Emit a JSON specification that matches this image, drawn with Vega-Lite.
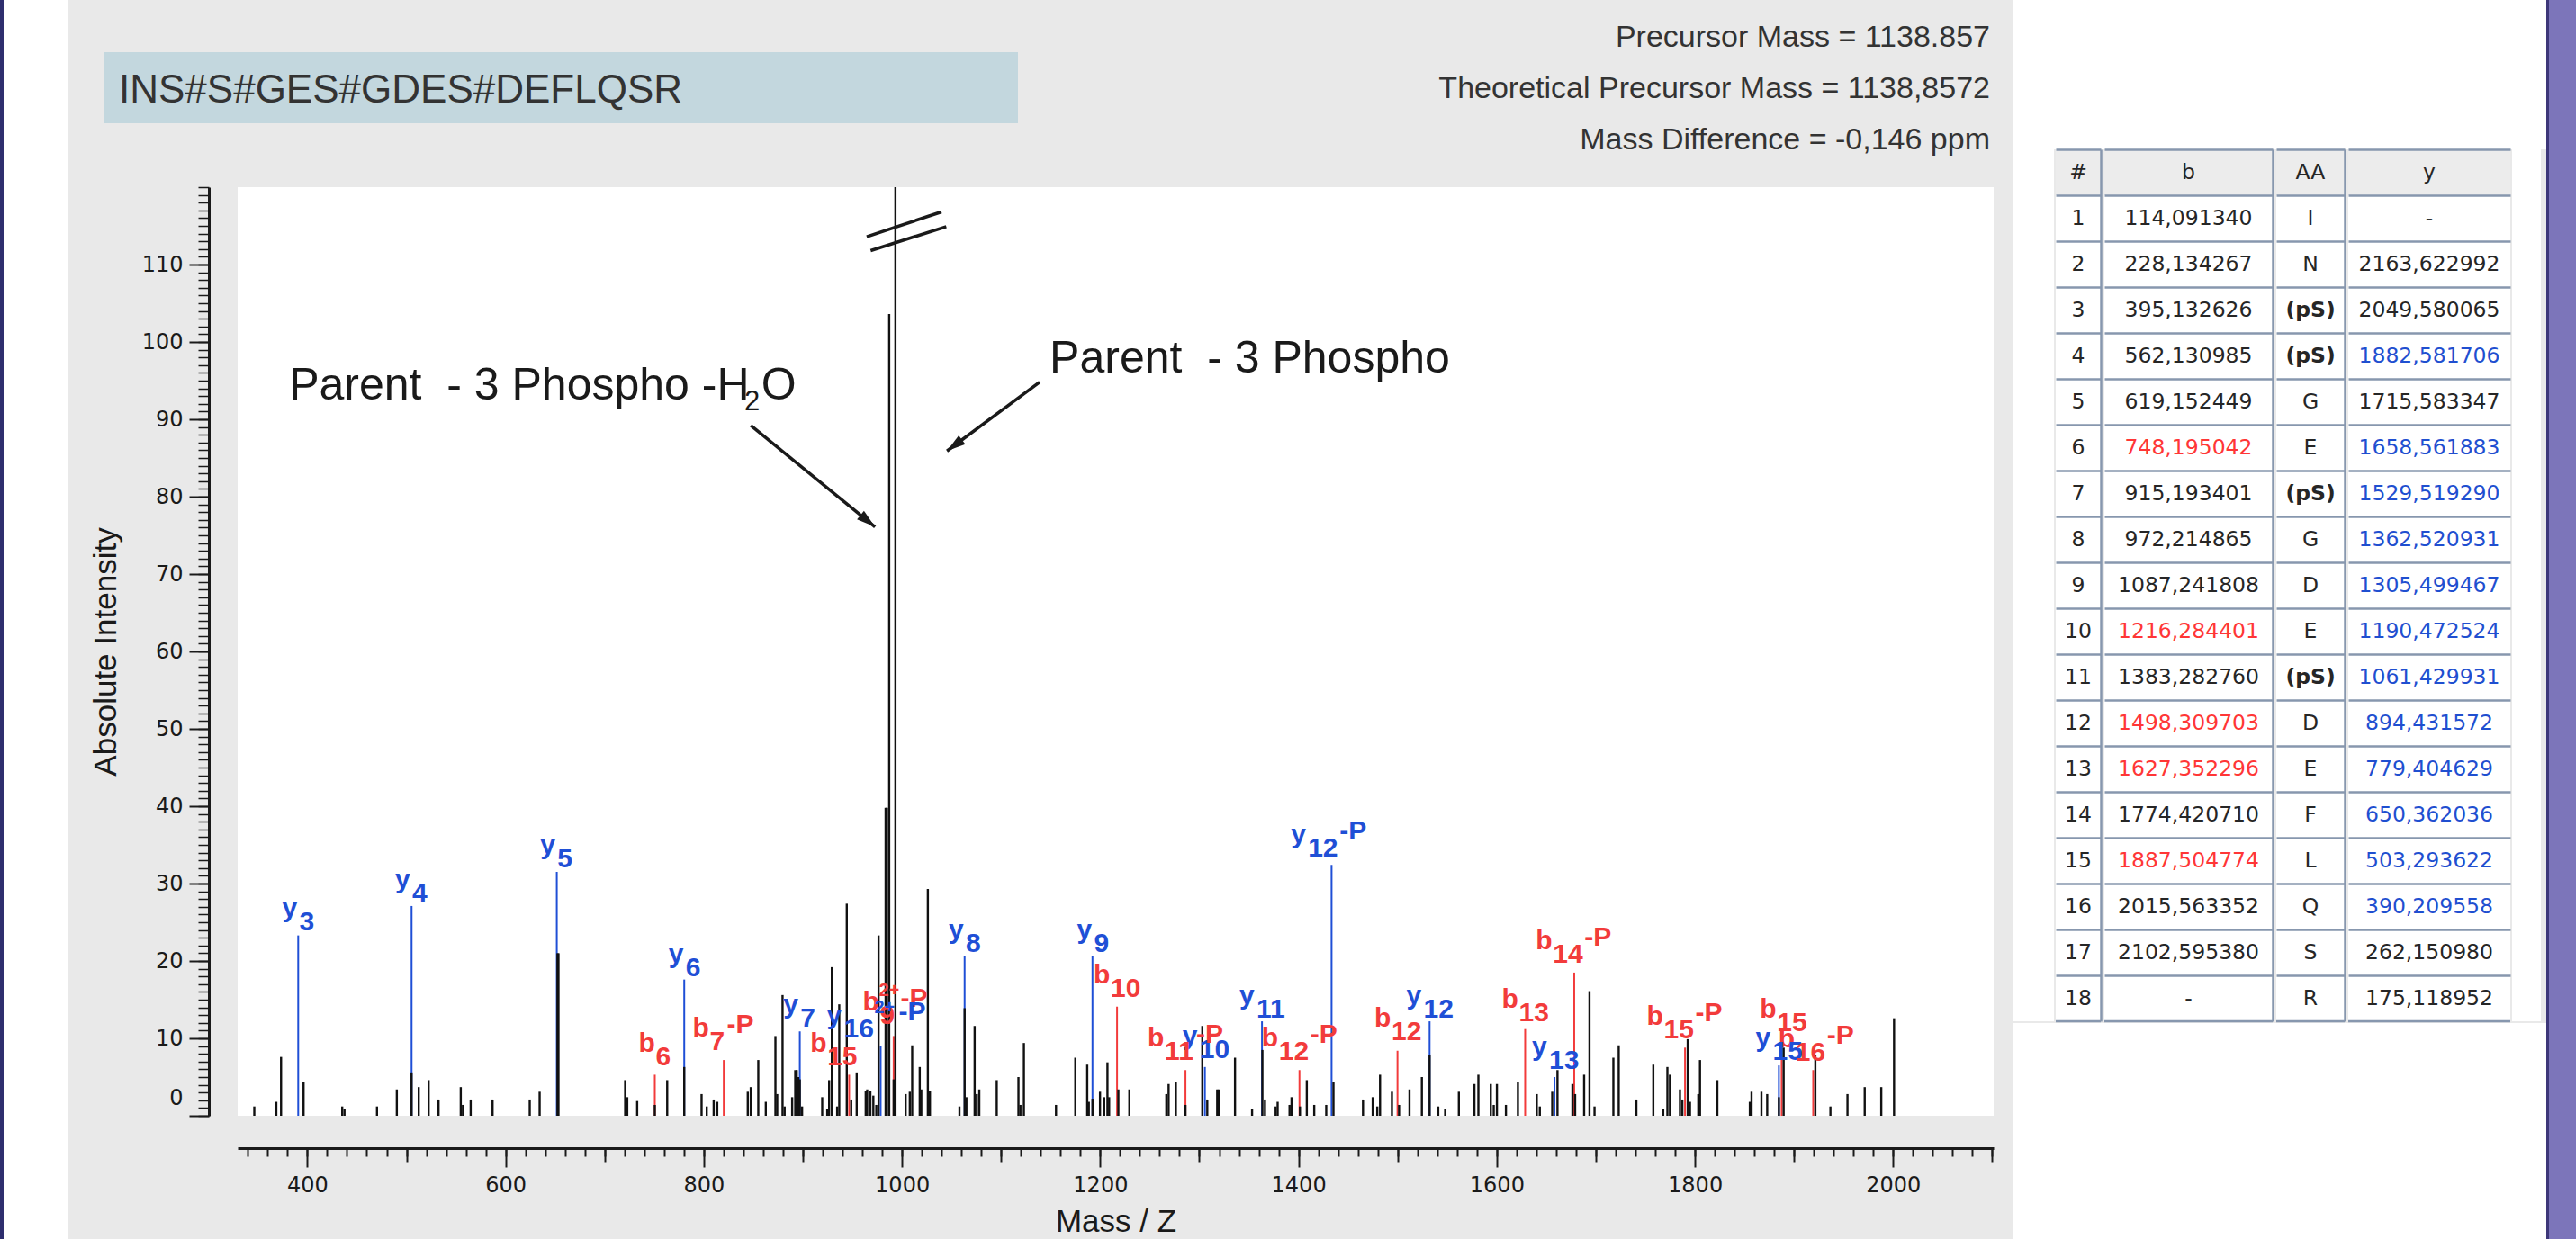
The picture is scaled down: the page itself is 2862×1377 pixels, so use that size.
{
  "$schema": "https://vega.github.io/schema/vega-lite/v6.json",
  "background": "#e9e9e9",
  "padding": 0,
  "spacing": 0,
  "bounds": "full",
  "config": {
    "view": {"stroke": null},
    "axis": {"grid": false},
    "title": {"font": "Liberation Sans", "fontWeight": "normal", "color": "#2a2a2a"},
    "text": {"font": "Liberation Sans"}
  },
  "datasets": {
    "pk": [
      {"mz":346.5,"i":1.2},{"mz":368.7,"i":1.8},{"mz":373.5,"i":7.6},{"mz":396.2,"i":4.4},{"mz":435.2,"i":1.2},{"mz":437.5,"i":0.9},{"mz":470.3,"i":1.2},{"mz":490.3,"i":3.4},{"mz":505.2,"i":5.6},{"mz":512.4,"i":3.7},{"mz":522.4,"i":4.6},{"mz":532.4,"i":2.1},{"mz":554.8,"i":3.7},{"mz":557.0,"i":1.4},{"mz":564.8,"i":2.1},{"mz":586.9,"i":2.1},{"mz":624.4,"i":2.1},{"mz":634.4,"i":3.1},{"mz":652.4,"i":21.0},{"mz":653.4,"i":21.0},{"mz":720.7,"i":4.6},{"mz":722.8,"i":2.4},{"mz":732.8,"i":1.9},
      {"mz":750.6,"i":1.4},{"mz":763.1,"i":4.6},{"mz":780.3,"i":6.3},{"mz":797.8,"i":2.8},{"mz":803.0,"i":1.2},{"mz":810.0,"i":2.1},{"mz":813.6,"i":1.8},{"mz":844.4,"i":3.1},{"mz":847.4,"i":3.7},{"mz":855.0,"i":7.2},{"mz":862.6,"i":1.8},{"mz":872.3,"i":10.3},{"mz":874.1,"i":2.8},{"mz":879.5,"i":15.6},{"mz":881.6,"i":1.2},{"mz":889.2,"i":2.4},{"mz":892.3,"i":5.9},{"mz":893.8,"i":5.9},{"mz":895.3,"i":5.0},{"mz":896.9,"i":4.7},{"mz":899.2,"i":1.2},{"mz":919.5,"i":2.4},{"mz":924.6,"i":0.9},{"mz":926.5,"i":4.6},{"mz":929.2,"i":19.2},{"mz":934.6,"i":1.2},{"mz":936.7,"i":14.4},{"mz":944.3,"i":27.4},{"mz":948.8,"i":2.1},{"mz":954.3,"i":5.6},{"mz":963.4,"i":3.2},{"mz":964.9,"i":3.4},{"mz":968.1,"i":3.2},{"mz":971.1,"i":2.6},{"mz":974.1,"i":1.4},{"mz":976.4,"i":23.3},{"mz":983.5,"i":39.8},{"mz":984.8,"i":39.8},{"mz":987.1,"i":103.6},{"mz":991.6,"i":4.7},{"mz":993.4,"i":130},{"mz":1003.7,"i":2.8},{"mz":1007.9,"i":3.1},{"mz":1010.3,"i":9.1},{"mz":1017.9,"i":6.3},{"mz":1019.5,"i":3.4},{"mz":1026.1,"i":29.3},{"mz":1028.2,"i":3.2},{"mz":1058.0,"i":1.2},{"mz":1063.2,"i":13.9},{"mz":1065.0,"i":2.4},{"mz":1073.3,"i":11.6},{"mz":1075.5,"i":2.8},{"mz":1078.0,"i":3.4},{"mz":1095.6,"i":4.6},
      {"mz":1117.5,"i":5.0},{"mz":1119.5,"i":1.4},{"mz":1123.0,"i":9.4},{"mz":1155.4,"i":1.4},{"mz":1174.9,"i":7.5},{"mz":1186.9,"i":6.6},{"mz":1188.5,"i":1.8},{"mz":1192.2,"i":2.2},{"mz":1199.8,"i":3.1},{"mz":1204.0,"i":2.4},{"mz":1207.3,"i":6.9},{"mz":1209.0,"i":2.4},{"mz":1218.3,"i":3.4},{"mz":1229.4,"i":3.4},{"mz":1266.7,"i":2.8},{"mz":1269.0,"i":4.1},{"mz":1276.3,"i":4.3},{"mz":1286.0,"i":1.4},{"mz":1303.0,"i":11.6},{"mz":1308.0,"i":2.1},{"mz":1318.0,"i":3.4},{"mz":1319.5,"i":3.4},{"mz":1336.0,"i":7.5},{"mz":1353.2,"i":0.9},{"mz":1363.6,"i":8.5},{"mz":1366.2,"i":2.1},{"mz":1377.0,"i":1.2},{"mz":1379.0,"i":1.8},{"mz":1391.0,"i":1.4},{"mz":1393.0,"i":2.4},{"mz":1401.5,"i":1.2},{"mz":1408.4,"i":4.6},{"mz":1415.9,"i":1.4},{"mz":1428.0,"i":1.4},{"mz":1435.3,"i":4.3},{"mz":1465.1,"i":2.1},{"mz":1474.9,"i":2.4},{"mz":1479.5,"i":1.2},{"mz":1482.3,"i":5.3},{"mz":1494.3,"i":3.1},{"mz":1501.5,"i":1.4},{"mz":1512.0,"i":3.4},{"mz":1524.5,"i":5.0},{"mz":1532.3,"i":7.8},{"mz":1541.0,"i":1.2},{"mz":1548.0,"i":0.9},{"mz":1561.8,"i":3.1},{"mz":1577.5,"i":4.1},{"mz":1581.5,"i":5.3},{"mz":1594.0,"i":4.1},
      {"mz":1597.0,"i":1.4},{"mz":1600.2,"i":4.1},{"mz":1609.3,"i":1.4},{"mz":1621.4,"i":4.3},{"mz":1640.4,"i":2.8},{"mz":1643.5,"i":1.2},{"mz":1656.0,"i":3.1},{"mz":1661.3,"i":5.9},{"mz":1676.4,"i":4.1},{"mz":1679.1,"i":2.8},{"mz":1688.2,"i":5.3},{"mz":1693.6,"i":16.1},{"mz":1698.7,"i":1.2},{"mz":1717.7,"i":7.5},{"mz":1723.1,"i":9.1},{"mz":1740.9,"i":2.1},{"mz":1758.0,"i":6.6},{"mz":1768.0,"i":0.9},{"mz":1772.2,"i":6.3},{"mz":1774.8,"i":5.3},{"mz":1784.9,"i":3.4},{"mz":1787.3,"i":2.1},{"mz":1792.7,"i":9.9},{"mz":1795.0,"i":1.8},{"mz":1803.4,"i":2.8},{"mz":1805.1,"i":7.2},{"mz":1822.6,"i":4.6},{"mz":1855.4,"i":1.8},{"mz":1857.1,"i":3.1},{"mz":1867.1,"i":3.1},{"mz":1872.9,"i":2.8},{"mz":1884.7,"i":2.4},{"mz":1889.5,"i":8.8},{"mz":1921.5,"i":7.8},{"mz":1936.7,"i":1.2},{"mz":1953.9,"i":2.8},{"mz":1971.3,"i":3.7},{"mz":1988.0,"i":3.7},{"mz":2000.9,"i":12.6}
    ],
    "ann": [
      {"mz":390.8,"i":23.3,"c":"y"},{"mz":505.2,"i":27.1,"c":"y"},{"mz":651.7,"i":31.5,"c":"y"},{"mz":750.6,"i":5.3,"c":"b"},{"mz":780.3,"i":17.6,"c":"y"},{"mz":820.2,"i":7.2,"c":"b"},{"mz":896.9,"i":10.9,"c":"y"},{"mz":946.7,"i":5.3,"c":"b"},{"mz":978.5,"i":9.0,"c":"y"},{"mz":991.6,"i":10.3,"c":"b"},{"mz":1063.2,"i":20.7,"c":"y"},{"mz":1192.2,"i":20.7,"c":"y"},{"mz":1217.0,"i":14.1,"c":"b"},{"mz":1286.0,"i":5.9,"c":"b"},{"mz":1305.6,"i":6.3,"c":"y"},{"mz":1363.2,"i":12.2,"c":"y"},{"mz":1401.0,"i":5.9,"c":"b"},{"mz":1433.4,"i":32.4,"c":"y"},{"mz":1499.9,"i":8.4,"c":"b"},{"mz":1532.3,"i":12.2,"c":"y"},{"mz":1628.7,"i":11.2,"c":"b"},{"mz":1658.3,"i":5.0,"c":"y"},{"mz":1678.2,"i":18.5,"c":"b"},{"mz":1790.0,"i":8.8,"c":"b"},{"mz":1884.7,"i":6.5,"c":"y"},{"mz":1887.5,"i":8.8,"c":"b"},{"mz":1919.3,"i":5.9,"c":"b"}
    ],
    "lbl": [
      {"lx":374.7,"ly":25.7,"ion":"y","num":"3","sup":"","suf":""},
      {"lx":488.7,"ly":29.4,"ion":"y","num":"4","sup":"","suf":""},
      {"lx":635.0,"ly":33.8,"ion":"y","num":"5","sup":"","suf":""},
      {"lx":734.2,"ly":8.3,"ion":"b","num":"6","sup":"","suf":""},
      {"lx":764.5,"ly":19.8,"ion":"y","num":"6","sup":"","suf":""},
      {"lx":788.7,"ly":10.2,"ion":"b","num":"7","sup":"","suf":"-P"},
      {"lx":880.2,"ly":13.3,"ion":"y","num":"7","sup":"","suf":""},
      {"lx":907.4,"ly":8.3,"ion":"b","num":"15","sup":"","suf":""},
      {"lx":924.0,"ly":11.9,"ion":"y","num":"16","sup":"2+","suf":"-P"},
      {"lx":960.3,"ly":13.6,"ion":"b","num":"9","sup":"2+","suf":"-P"},
      {"lx":1047.2,"ly":22.9,"ion":"y","num":"8","sup":"","suf":""},
      {"lx":1176.5,"ly":22.9,"ion":"y","num":"9","sup":"","suf":""},
      {"lx":1193.4,"ly":17.1,"ion":"b","num":"10","sup":"","suf":""},
      {"lx":1247.9,"ly":8.9,"ion":"b","num":"11","sup":"","suf":"-P"},
      {"lx":1283.0,"ly":9.2,"ion":"y","num":"10","sup":"","suf":""},
      {"lx":1340.4,"ly":14.4,"ion":"y","num":"11","sup":"","suf":""},
      {"lx":1363.0,"ly":8.9,"ion":"b","num":"12","sup":"","suf":"-P"},
      {"lx":1392.3,"ly":35.2,"ion":"y","num":"12","sup":"","suf":"-P"},
      {"lx":1476.6,"ly":11.5,"ion":"b","num":"12","sup":"","suf":""},
      {"lx":1508.9,"ly":14.4,"ion":"y","num":"12","sup":"","suf":""},
      {"lx":1605.2,"ly":14.0,"ion":"b","num":"13","sup":"","suf":""},
      {"lx":1635.5,"ly":7.8,"ion":"y","num":"13","sup":"","suf":""},
      {"lx":1639.4,"ly":21.5,"ion":"b","num":"14","sup":"","suf":"-P"},
      {"lx":1751.3,"ly":11.7,"ion":"b","num":"15","sup":"","suf":"-P"},
      {"lx":1861.2,"ly":9.0,"ion":"y","num":"15","sup":"","suf":""},
      {"lx":1865.5,"ly":12.7,"ion":"b","num":"15","sup":"","suf":""},
      {"lx":1884.1,"ly":8.8,"ion":"b","num":"16","sup":"","suf":"-P"}
    ],
    "notes": [
      {"x":381.6,"y":92.6,"t":"Parent\u00a0 - 3 Phospho -H","k":"m"},
      {"x":841.0,"y":92.6,"t":"2","k":"s"},
      {"x":858.0,"y":92.6,"t":"O","k":"m"},
      {"x":1148.9,"y":96.0,"t":"Parent\u00a0 - 3 Phospho","k":"m"}
    ],
    "lines": [
      {"id":"a1","x1":847.5,"y1":89.2,"x2":972.8,"y2":76.1},
      {"id":"a2","x1":1138.9,"y1":94.8,"x2":1045.4,"y2":85.9},
      {"id":"k1","x1":964.4,"y1":113.6,"x2":1039.8,"y2":116.8},
      {"id":"k2","x1":968.4,"y1":111.8,"x2":1044.7,"y2":114.9}
    ],
    "tbl": [
      {"r":"0","n":"#","b":"b","aa":"AA","y":"y","bc":"black","yc":"black"},
      {"r":"1","n":"1","b":"114,091340","aa":"I","y":"-","bc":"black","yc":"black"},
      {"r":"2","n":"2","b":"228,134267","aa":"N","y":"2163,622992","bc":"black","yc":"black"},
      {"r":"3","n":"3","b":"395,132626","aa":"(pS)","y":"2049,580065","bc":"black","yc":"black"},
      {"r":"4","n":"4","b":"562,130985","aa":"(pS)","y":"1882,581706","bc":"black","yc":"blue"},
      {"r":"5","n":"5","b":"619,152449","aa":"G","y":"1715,583347","bc":"black","yc":"black"},
      {"r":"6","n":"6","b":"748,195042","aa":"E","y":"1658,561883","bc":"red","yc":"blue"},
      {"r":"7","n":"7","b":"915,193401","aa":"(pS)","y":"1529,519290","bc":"black","yc":"blue"},
      {"r":"8","n":"8","b":"972,214865","aa":"G","y":"1362,520931","bc":"black","yc":"blue"},
      {"r":"9","n":"9","b":"1087,241808","aa":"D","y":"1305,499467","bc":"black","yc":"blue"},
      {"r":"10","n":"10","b":"1216,284401","aa":"E","y":"1190,472524","bc":"red","yc":"blue"},
      {"r":"11","n":"11","b":"1383,282760","aa":"(pS)","y":"1061,429931","bc":"black","yc":"blue"},
      {"r":"12","n":"12","b":"1498,309703","aa":"D","y":"894,431572","bc":"red","yc":"blue"},
      {"r":"13","n":"13","b":"1627,352296","aa":"E","y":"779,404629","bc":"red","yc":"blue"},
      {"r":"14","n":"14","b":"1774,420710","aa":"F","y":"650,362036","bc":"black","yc":"blue"},
      {"r":"15","n":"15","b":"1887,504774","aa":"L","y":"503,293622","bc":"red","yc":"blue"},
      {"r":"16","n":"16","b":"2015,563352","aa":"Q","y":"390,209558","bc":"black","yc":"blue"},
      {"r":"17","n":"17","b":"2102,595380","aa":"S","y":"262,150980","bc":"black","yc":"black"},
      {"r":"18","n":"18","b":"-","aa":"R","y":"175,118952","bc":"black","yc":"black"}
    ]
  },
  "hconcat": [
    {"width": 4, "height": 1377, "view": {"fill": "#2e2e6e"}, "data": {"values": []}, "mark": "point", "encoding": {}},
    {"width": 71, "height": 1377, "view": {"fill": "#ffffff"}, "data": {"values": []}, "mark": "point", "encoding": {}},
    {
      "spacing": 0, "bounds": "full",
      "vconcat": [
        {
          "spacing": 0, "bounds": "full",
          "hconcat": [
            {"width": 41, "height": 207, "data": {"values": []}, "mark": "point", "encoding": {}},
            {
              "spacing": 0, "bounds": "full",
              "vconcat": [
                {"width": 1015, "height": 58, "data": {"values": []}, "mark": "point", "encoding": {}},
                {"width": 1015, "height": 79, "view": {"fill": "#c3d7de"}, "data": {"values": []}, "mark": "point", "encoding": {},
                 "title": {"text": "INS#S#GES#GDES#DEFLQSR", "orient": "bottom", "anchor": "start", "frame": "group", "offset": -58.5, "dx": 16, "fontSize": 44, "color": "#333333"}},
                {"width": 1015, "height": 70, "data": {"values": []}, "mark": "point", "encoding": {}}
              ]
            },
            {"width": 1106, "height": 207, "data": {"values": []}, "mark": "point", "encoding": {},
             "title": {"text": ["Precursor Mass = 1138.857", "Theoretical Precursor Mass = 1138,8572", "Mass Difference = -0,146 ppm"], "orient": "bottom", "anchor": "end", "frame": "group", "offset": -182, "dx": -26, "fontSize": 34, "lineHeight": 57, "color": "#333333"}}
          ]
        },
        {
          "spacing": 0, "bounds": "full",
          "hconcat": [
            {"width": 25, "height": 1032, "data": {"values": []}, "mark": "point", "encoding": {}},
            {
              "width": 1951, "height": 1032,
              "view": {"fill": "#ffffff"},
              "resolve": {"axis": {"x": "independent", "y": "independent"}},
              "layer": [
                {"data": {"name": "ann"}, "mark": {"type": "rule", "strokeWidth": 2},
                 "encoding": {
                   "x": {"field": "mz", "type": "quantitative", "scale": {"domain": [329.7, 2101.4], "nice": false, "zero": false}, "axis": null},
                   "y": {"field": "i", "type": "quantitative", "scale": {"domain": [0, 120], "nice": false, "zero": false}, "axis": null},
                   "y2": {"datum": 0},
                   "color": {"field": "c", "type": "nominal", "scale": {"domain": ["y", "b", "black", "red", "blue"], "range": ["#1f4fd6", "#f23b3b", "#262626", "#ff3636", "#1f4fd0"]}, "legend": null}
                 }},
                {"data": {"name": "pk"}, "mark": {"type": "rule", "strokeWidth": 2.4, "color": "#111111", "clip": true},
                 "encoding": {
                   "x": {"field": "mz", "type": "quantitative", "scale": {"domain": [329.7, 2101.4], "nice": false, "zero": false},
                         "axis": {"orient": "bottom", "offset": 36, "values": [400, 600, 800, 1000, 1200, 1400, 1600, 1800, 2000], "format": "d", "tickSize": 21, "tickWidth": 2, "tickColor": "#1a1a1a", "domainColor": "#1a1a1a", "domainWidth": 3, "labelFont": "DejaVu Sans", "labelFontSize": 24, "labelColor": "#1a1a1a", "labelPadding": 8, "labelFlush": false, "labelOverlap": false, "title": "Mass / Z", "titleFont": "Liberation Sans", "titleFontSize": 35, "titleFontWeight": "normal", "titleColor": "#1a1a1a", "titlePadding": 11, "grid": false}},
                   "y": {"field": "i", "type": "quantitative", "scale": {"domain": [0, 120], "nice": false, "zero": false},
                         "axis": {"orient": "left", "offset": 32, "values": [0, 10, 20, 30, 40, 50, 60, 70, 80, 90, 100, 110], "tickSize": 22, "tickWidth": 2, "tickColor": "#1a1a1a", "domainColor": "#1a1a1a", "domainWidth": 3, "labelFont": "DejaVu Sans", "labelFontSize": 24, "labelColor": "#1a1a1a", "labelPadding": 7, "labelFlush": true, "labelFlushOffset": -8, "title": "Absolute Intensity", "titleFont": "Liberation Sans", "titleFontSize": 35, "titleFontWeight": "normal", "titleColor": "#1a1a1a", "titlePadding": 22, "grid": false}},
                   "y2": {"datum": 0}
                 }},
                {"data": {"name": "pk"}, "mark": {"type": "point", "opacity": 0, "clip": true},
                 "encoding": {
                   "x": {"field": "mz", "type": "quantitative", "scale": {"domain": [329.7, 2101.4], "nice": false, "zero": false},
                         "axis": {"orient": "bottom", "offset": 36, "tickCount": 89, "tickSize": 9, "tickWidth": 2, "tickColor": "#1a1a1a", "labels": false, "domain": false, "title": null, "grid": false}},
                   "y": {"field": "i", "type": "quantitative", "scale": {"domain": [0, 120], "nice": false, "zero": false},
                         "axis": {"orient": "left", "offset": 32, "tickCount": 120, "tickSize": 12, "tickWidth": 1.5, "tickColor": "#1a1a1a", "labels": false, "domain": false, "title": null, "grid": false}}
                 }},
                {"data": {"name": "pk"}, "mark": {"type": "point", "opacity": 0, "clip": true},
                 "encoding": {
                   "x": {"field": "mz", "type": "quantitative", "scale": {"domain": [329.7, 2101.4], "nice": false, "zero": false},
                         "axis": {"orient": "bottom", "offset": 36, "values": [500, 700, 900, 1100, 1300, 1500, 1700, 1900, 2100], "tickSize": 15, "tickWidth": 2, "tickColor": "#1a1a1a", "labels": false, "domain": false, "title": null, "grid": false}},
                   "y": {"field": "i", "type": "quantitative", "scale": {"domain": [0, 120], "nice": false, "zero": false}, "axis": null}
                 }},
                {"data": {"name": "lbl"}, "mark": {"type": "text", "fontWeight": "bold", "fontSize": 30, "align": "left", "baseline": "alphabetic"},
                 "encoding": {
                   "x": {"field": "lx", "type": "quantitative", "scale": {"domain": [329.7, 2101.4], "nice": false, "zero": false}, "axis": null},
                   "y": {"field": "ly", "type": "quantitative", "scale": {"domain": [0, 120], "nice": false, "zero": false}, "axis": null},
                   "text": {"field": "ion"},
                   "color": {"field": "ion", "type": "nominal", "scale": {"domain": ["y", "b", "black", "red", "blue"], "range": ["#1f4fd6", "#f23b3b", "#262626", "#ff3636", "#1f4fd0"]}, "legend": null}
                 }},
                {"data": {"name": "lbl"}, "mark": {"type": "text", "fontWeight": "bold", "fontSize": 30, "align": "left", "baseline": "alphabetic", "dx": 19, "dy": 15},
                 "encoding": {
                   "x": {"field": "lx", "type": "quantitative", "scale": {"domain": [329.7, 2101.4], "nice": false, "zero": false}, "axis": null},
                   "y": {"field": "ly", "type": "quantitative", "scale": {"domain": [0, 120], "nice": false, "zero": false}, "axis": null},
                   "text": {"field": "num"},
                   "color": {"field": "ion", "type": "nominal", "scale": {"domain": ["y", "b", "black", "red", "blue"], "range": ["#1f4fd6", "#f23b3b", "#262626", "#ff3636", "#1f4fd0"]}, "legend": null}
                 }},
                {"data": {"name": "lbl"}, "transform": [{"filter": "datum.sup=='' && datum.suf!='' && length(datum.num)==1"}],
                 "mark": {"type": "text", "fontWeight": "bold", "fontSize": 30, "align": "left", "baseline": "alphabetic", "dx": 38, "dy": -4},
                 "encoding": {
                   "x": {"field": "lx", "type": "quantitative", "scale": {"domain": [329.7, 2101.4], "nice": false, "zero": false}, "axis": null},
                   "y": {"field": "ly", "type": "quantitative", "scale": {"domain": [0, 120], "nice": false, "zero": false}, "axis": null},
                   "text": {"field": "suf"},
                   "color": {"field": "ion", "type": "nominal", "scale": {"domain": ["y", "b", "black", "red", "blue"], "range": ["#1f4fd6", "#f23b3b", "#262626", "#ff3636", "#1f4fd0"]}, "legend": null}
                 }},
                {"data": {"name": "lbl"}, "transform": [{"filter": "datum.sup=='' && datum.suf!='' && length(datum.num)==2"}],
                 "mark": {"type": "text", "fontWeight": "bold", "fontSize": 30, "align": "left", "baseline": "alphabetic", "dx": 54, "dy": -4},
                 "encoding": {
                   "x": {"field": "lx", "type": "quantitative", "scale": {"domain": [329.7, 2101.4], "nice": false, "zero": false}, "axis": null},
                   "y": {"field": "ly", "type": "quantitative", "scale": {"domain": [0, 120], "nice": false, "zero": false}, "axis": null},
                   "text": {"field": "suf"},
                   "color": {"field": "ion", "type": "nominal", "scale": {"domain": ["y", "b", "black", "red", "blue"], "range": ["#1f4fd6", "#f23b3b", "#262626", "#ff3636", "#1f4fd0"]}, "legend": null}
                 }},
                {"data": {"name": "lbl"}, "transform": [{"filter": "datum.sup!='' && length(datum.num)==1"}],
                 "mark": {"type": "text", "fontWeight": "bold", "fontSize": 20, "align": "left", "baseline": "alphabetic", "dx": 18, "dy": -16},
                 "encoding": {
                   "x": {"field": "lx", "type": "quantitative", "scale": {"domain": [329.7, 2101.4], "nice": false, "zero": false}, "axis": null},
                   "y": {"field": "ly", "type": "quantitative", "scale": {"domain": [0, 120], "nice": false, "zero": false}, "axis": null},
                   "text": {"field": "sup"},
                   "color": {"field": "ion", "type": "nominal", "scale": {"domain": ["y", "b", "black", "red", "blue"], "range": ["#1f4fd6", "#f23b3b", "#262626", "#ff3636", "#1f4fd0"]}, "legend": null}
                 }},
                {"data": {"name": "lbl"}, "transform": [{"filter": "datum.sup!='' && length(datum.num)==1"}],
                 "mark": {"type": "text", "fontWeight": "bold", "fontSize": 30, "align": "left", "baseline": "alphabetic", "dx": 42, "dy": -4},
                 "encoding": {
                   "x": {"field": "lx", "type": "quantitative", "scale": {"domain": [329.7, 2101.4], "nice": false, "zero": false}, "axis": null},
                   "y": {"field": "ly", "type": "quantitative", "scale": {"domain": [0, 120], "nice": false, "zero": false}, "axis": null},
                   "text": {"field": "suf"},
                   "color": {"field": "ion", "type": "nominal", "scale": {"domain": ["y", "b", "black", "red", "blue"], "range": ["#1f4fd6", "#f23b3b", "#262626", "#ff3636", "#1f4fd0"]}, "legend": null}
                 }},
                {"data": {"name": "lbl"}, "transform": [{"filter": "datum.sup!='' && length(datum.num)==2"}],
                 "mark": {"type": "text", "fontWeight": "bold", "fontSize": 20, "align": "left", "baseline": "alphabetic", "dx": 53, "dy": -12},
                 "encoding": {
                   "x": {"field": "lx", "type": "quantitative", "scale": {"domain": [329.7, 2101.4], "nice": false, "zero": false}, "axis": null},
                   "y": {"field": "ly", "type": "quantitative", "scale": {"domain": [0, 120], "nice": false, "zero": false}, "axis": null},
                   "text": {"field": "sup"},
                   "color": {"field": "ion", "type": "nominal", "scale": {"domain": ["y", "b", "black", "red", "blue"], "range": ["#1f4fd6", "#f23b3b", "#262626", "#ff3636", "#1f4fd0"]}, "legend": null}
                 }},
                {"data": {"name": "lbl"}, "transform": [{"filter": "datum.sup!='' && length(datum.num)==2"}],
                 "mark": {"type": "text", "fontWeight": "bold", "fontSize": 30, "align": "left", "baseline": "alphabetic", "dx": 80, "dy": -4},
                 "encoding": {
                   "x": {"field": "lx", "type": "quantitative", "scale": {"domain": [329.7, 2101.4], "nice": false, "zero": false}, "axis": null},
                   "y": {"field": "ly", "type": "quantitative", "scale": {"domain": [0, 120], "nice": false, "zero": false}, "axis": null},
                   "text": {"field": "suf"},
                   "color": {"field": "ion", "type": "nominal", "scale": {"domain": ["y", "b", "black", "red", "blue"], "range": ["#1f4fd6", "#f23b3b", "#262626", "#ff3636", "#1f4fd0"]}, "legend": null}
                 }},
                {"data": {"name": "notes"}, "transform": [{"filter": "datum.k=='m'"}],
                 "mark": {"type": "text", "fontSize": 50, "align": "left", "baseline": "alphabetic", "color": "#1a1a1a"},
                 "encoding": {
                   "x": {"field": "x", "type": "quantitative", "scale": {"domain": [329.7, 2101.4], "nice": false, "zero": false}, "axis": null},
                   "y": {"field": "y", "type": "quantitative", "scale": {"domain": [0, 120], "nice": false, "zero": false}, "axis": null},
                   "text": {"field": "t"}
                 }},
                {"data": {"name": "notes"}, "transform": [{"filter": "datum.k=='s'"}],
                 "mark": {"type": "text", "fontSize": 31, "align": "left", "baseline": "alphabetic", "color": "#1a1a1a", "dy": 12},
                 "encoding": {
                   "x": {"field": "x", "type": "quantitative", "scale": {"domain": [329.7, 2101.4], "nice": false, "zero": false}, "axis": null},
                   "y": {"field": "y", "type": "quantitative", "scale": {"domain": [0, 120], "nice": false, "zero": false}, "axis": null},
                   "text": {"field": "t"}
                 }},
                {"data": {"name": "lines"}, "mark": {"type": "rule", "color": "#1a1a1a", "strokeWidth": 3.5},
                 "encoding": {
                   "x": {"field": "x1", "type": "quantitative", "scale": {"domain": [329.7, 2101.4], "nice": false, "zero": false}, "axis": null},
                   "y": {"field": "y1", "type": "quantitative", "scale": {"domain": [0, 120], "nice": false, "zero": false}, "axis": null},
                   "x2": {"field": "x2"},
                   "y2": {"field": "y2"}
                 }},
                {"data": {"name": "lines"}, "transform": [{"filter": "datum.id=='a1'"}],
                 "mark": {"type": "point", "shape": "M0,0L0.5,1.7L-0.5,1.7Z", "size": 600, "filled": true, "opacity": 1, "color": "#1a1a1a", "angle": 129.2},
                 "encoding": {
                   "x": {"field": "x2", "type": "quantitative", "scale": {"domain": [329.7, 2101.4], "nice": false, "zero": false}, "axis": null},
                   "y": {"field": "y2", "type": "quantitative", "scale": {"domain": [0, 120], "nice": false, "zero": false}, "axis": null}
                 }},
                {"data": {"name": "lines"}, "transform": [{"filter": "datum.id=='a2'"}],
                 "mark": {"type": "point", "shape": "M0,0L0.5,1.7L-0.5,1.7Z", "size": 600, "filled": true, "opacity": 1, "color": "#1a1a1a", "angle": 233.4},
                 "encoding": {
                   "x": {"field": "x2", "type": "quantitative", "scale": {"domain": [329.7, 2101.4], "nice": false, "zero": false}, "axis": null},
                   "y": {"field": "y2", "type": "quantitative", "scale": {"domain": [0, 120], "nice": false, "zero": false}, "axis": null}
                 }}
              ]
            }
          ]
        }
      ]
    },
    {
      "spacing": 0, "bounds": "full",
      "vconcat": [
        {"width": 592, "height": 166, "view": {"fill": "#ffffff"}, "data": {"values": []}, "mark": "point", "encoding": {}},
        {
          "spacing": 0, "bounds": "full",
          "hconcat": [
            {"width": 45, "height": 969, "view": {"fill": "#ffffff"}, "data": {"values": []}, "mark": "point", "encoding": {}},
            {
              "width": 50, "height": 969, "view": {"fill": "#ffffff"}, "data": {"name": "tbl"},
              "layer": [
                {"transform": [{"filter": "datum.r=='0'"}], "mark": {"type": "rect", "color": "#ececec"},
                 "encoding": {"y": {"field": "r", "type": "ordinal", "scale": {"domain": ["0","1","2","3","4","5","6","7","8","9","10","11","12","13","14","15","16","17","18"], "paddingInner": 0, "paddingOuter": 0},
                   "axis": {"orient": "right", "domain": true, "domainColor": "#8797ae", "domainWidth": 2.5, "grid": true, "gridColor": "#8797ae", "gridWidth": 2.5, "gridOpacity": 1, "bandPosition": 0, "ticks": false, "labels": false, "title": null, "zindex": 1}}}},
                {"mark": {"type": "text", "font": "DejaVu Sans", "fontSize": 23.5, "color": "#262626"},
                 "encoding": {"y": {"field": "r", "type": "ordinal"}, "text": {"field": "n"}}},
                {"transform": [{"filter": "datum.r=='18'"}], "mark": {"type": "rule", "color": "#8797ae", "strokeWidth": 2.5},
                 "encoding": {"y": {"field": "r", "type": "ordinal", "bandPosition": 1}}}
              ]
            },
            {
              "width": 187, "height": 969, "view": {"fill": "#ffffff"}, "data": {"name": "tbl"},
              "layer": [
                {"transform": [{"filter": "datum.r=='0'"}], "mark": {"type": "rect", "color": "#ececec"},
                 "encoding": {"y": {"field": "r", "type": "ordinal", "scale": {"domain": ["0","1","2","3","4","5","6","7","8","9","10","11","12","13","14","15","16","17","18"], "paddingInner": 0, "paddingOuter": 0},
                   "axis": {"orient": "right", "domain": true, "domainColor": "#8797ae", "domainWidth": 2.5, "grid": true, "gridColor": "#8797ae", "gridWidth": 2.5, "gridOpacity": 1, "bandPosition": 0, "ticks": false, "labels": false, "title": null, "zindex": 1}}}},
                {"mark": {"type": "text", "font": "DejaVu Sans", "fontSize": 23.5},
                 "encoding": {"y": {"field": "r", "type": "ordinal"}, "text": {"field": "b"},
                   "color": {"field": "bc", "type": "nominal", "scale": {"domain": ["y", "b", "black", "red", "blue"], "range": ["#1f4fd6", "#f23b3b", "#262626", "#ff3636", "#1f4fd0"]}, "legend": null}}},
                {"transform": [{"filter": "datum.r=='18'"}], "mark": {"type": "rule", "color": "#8797ae", "strokeWidth": 2.5},
                 "encoding": {"y": {"field": "r", "type": "ordinal", "bandPosition": 1}}}
              ]
            },
            {
              "width": 76, "height": 969, "view": {"fill": "#ffffff"}, "data": {"name": "tbl"},
              "layer": [
                {"transform": [{"filter": "datum.r=='0'"}], "mark": {"type": "rect", "color": "#ececec"},
                 "encoding": {"y": {"field": "r", "type": "ordinal", "scale": {"domain": ["0","1","2","3","4","5","6","7","8","9","10","11","12","13","14","15","16","17","18"], "paddingInner": 0, "paddingOuter": 0},
                   "axis": {"orient": "right", "domain": true, "domainColor": "#8797ae", "domainWidth": 2.5, "grid": true, "gridColor": "#8797ae", "gridWidth": 2.5, "gridOpacity": 1, "bandPosition": 0, "ticks": false, "labels": false, "title": null, "zindex": 1}}}},
                {"transform": [{"filter": "datum.aa!='(pS)'"}], "mark": {"type": "text", "font": "DejaVu Sans", "fontSize": 23.5, "color": "#262626"},
                 "encoding": {"y": {"field": "r", "type": "ordinal"}, "text": {"field": "aa"}}},
                {"transform": [{"filter": "datum.aa=='(pS)'"}], "mark": {"type": "text", "font": "DejaVu Sans", "fontWeight": "bold", "fontSize": 23.5, "color": "#262626"},
                 "encoding": {"y": {"field": "r", "type": "ordinal"}, "text": {"field": "aa"}}},
                {"transform": [{"filter": "datum.r=='18'"}], "mark": {"type": "rule", "color": "#8797ae", "strokeWidth": 2.5},
                 "encoding": {"y": {"field": "r", "type": "ordinal", "bandPosition": 1}}}
              ]
            },
            {
              "width": 180, "height": 969, "view": {"fill": "#ffffff"}, "data": {"name": "tbl"},
              "layer": [
                {"transform": [{"filter": "datum.r=='0'"}], "mark": {"type": "rect", "color": "#ececec"},
                 "encoding": {"y": {"field": "r", "type": "ordinal", "scale": {"domain": ["0","1","2","3","4","5","6","7","8","9","10","11","12","13","14","15","16","17","18"], "paddingInner": 0, "paddingOuter": 0},
                   "axis": {"orient": "left", "domain": false, "grid": true, "gridColor": "#8797ae", "gridWidth": 2.5, "gridOpacity": 1, "bandPosition": 0, "ticks": false, "labels": false, "title": null, "zindex": 1}}}},
                {"mark": {"type": "text", "font": "DejaVu Sans", "fontSize": 23.5},
                 "encoding": {"y": {"field": "r", "type": "ordinal"}, "text": {"field": "y"},
                   "color": {"field": "yc", "type": "nominal", "scale": {"domain": ["y", "b", "black", "red", "blue"], "range": ["#1f4fd6", "#f23b3b", "#262626", "#ff3636", "#1f4fd0"]}, "legend": null}}},
                {"transform": [{"filter": "datum.r=='18'"}], "mark": {"type": "rule", "color": "#8797ae", "strokeWidth": 2.5},
                 "encoding": {"y": {"field": "r", "type": "ordinal", "bandPosition": 1}}}
              ]
            },
            {"width": 32, "height": 969, "view": {"fill": "#ffffff"}, "data": {"values": []}, "mark": "point", "encoding": {}}
          ]
        },
        {"width": 592, "height": 242, "view": {"fill": "#ffffff"}, "data": {"values": []}, "mark": "point", "encoding": {}}
      ]
    },
    {"width": 3, "height": 1377, "view": {"fill": "#3d3779"}, "data": {"values": []}, "mark": "point", "encoding": {}},
    {"width": 30, "height": 1377, "view": {"fill": "#7c75ba"}, "data": {"values": []}, "mark": "point", "encoding": {}}
  ]
}
